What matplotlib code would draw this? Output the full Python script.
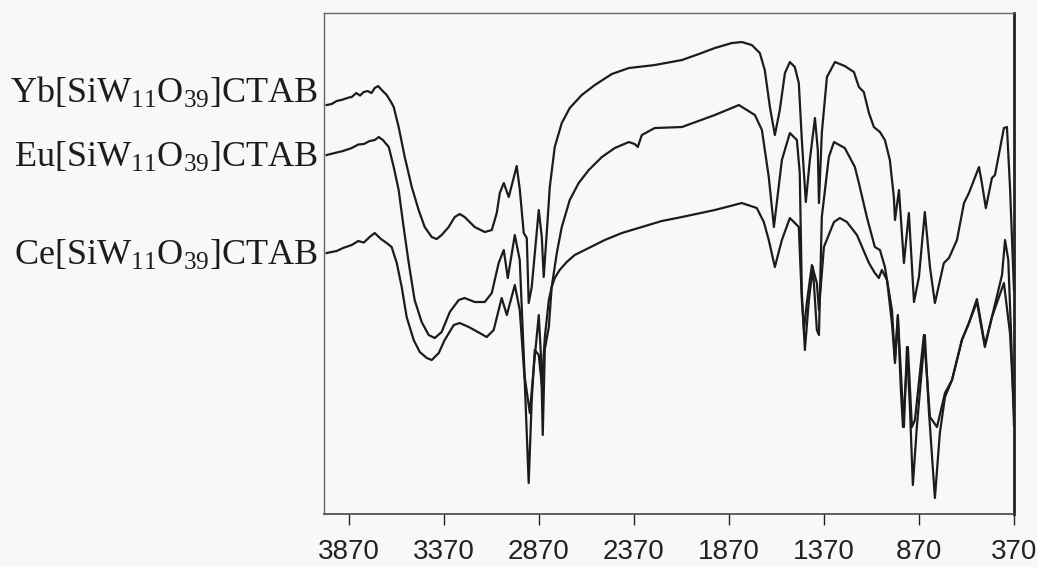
import matplotlib
matplotlib.use('AGG')
import matplotlib.pyplot as plt
import matplotlib.transforms as mtransforms

# wavenumber (cm-1) / transmittance (arbitrary %)
yb_wn = [3986, 3960, 3933, 3900, 3870, 3854, 3830, 3810, 3791, 3770, 3750, 3733, 3715, 3696, 3670, 3650,
         3633, 3607, 3575, 3538, 3502, 3470, 3433, 3407, 3381, 3344, 3312, 3286, 3260, 3207,
         3154, 3117, 3091, 3075, 3054, 3028, 2986, 2970, 2949, 2933, 2923, 2907, 2870, 2854,
         2844, 2828, 2812, 2786, 2749, 2707, 2644, 2575, 2486, 2396, 2260, 2117, 2028, 1944,
         1854, 1802, 1749, 1707, 1681, 1654, 1628, 1602, 1575, 1549, 1523, 1502, 1486, 1475,
         1465, 1444, 1417, 1402, 1396, 1381, 1354, 1312, 1260, 1212, 1186, 1160, 1133, 1107,
         1075, 1049, 1023, 1002, 996, 975, 949, 923, 896, 870, 839, 812, 786, 739, 712, 670,
         633, 607, 554, 539, 518, 486, 470, 423, 407, 391, 370]
yb_t = [81.8, 82.0, 82.6, 82.9, 83.3, 83.4, 84.2, 83.7, 84.4, 84.6, 84.2, 85.2, 85.6, 84.8, 83.8, 82.6,
        81.4, 77.4, 71.4, 65.4, 60.8, 57.4, 55.4, 55.0, 55.8, 57.4, 59.4, 60.0, 59.4, 57.4,
        56.4, 56.8, 60.2, 64.2, 66.2, 63.4, 69.6, 65.0, 56.2, 55.2, 42.2, 45.4, 60.8, 55.4,
        47.4, 56.2, 65.4, 73.4, 78.2, 81.2, 83.8, 85.8, 88.0, 89.2, 89.8, 90.8, 92.0, 93.2,
        94.2, 94.4, 93.8, 92.2, 88.8, 81.4, 75.8, 80.8, 88.2, 90.4, 89.4, 86.2, 74.8, 68.2,
        62.4, 70.8, 79.2, 72.8, 62.2, 76.2, 87.4, 90.4, 89.6, 88.4, 85.4, 84.4, 80.2, 77.4,
        76.4, 74.8, 70.8, 63.4, 58.8, 64.8, 50.2, 60.2, 42.4, 47.4, 60.4, 49.4, 42.2, 50.2, 51.2, 54.8,
        62.2, 64.2, 69.4, 66.2, 61.2, 67.2, 67.8, 77.2, 77.4, 65.4, 44.8]

eu_wn = [3986, 3933, 3900, 3854, 3820, 3790, 3760, 3733, 3712, 3690, 3659, 3633, 3607, 3581, 3554,
         3523, 3486, 3449, 3417, 3381, 3338, 3291, 3260, 3207, 3154, 3117, 3081, 3054, 3033,
         2996, 2970, 2944, 2917, 2896, 2870, 2858, 2849, 2838, 2817, 2802, 2775, 2749, 2707,
         2660, 2607, 2538, 2470, 2396, 2365, 2349, 2328, 2260, 2117, 1944, 1817, 1733, 1696,
         1660, 1633, 1591, 1549, 1512, 1497, 1486, 1470, 1449, 1428, 1407, 1396, 1381, 1344,
         1317, 1260, 1207, 1186, 1144, 1102, 1075, 1049, 1012, 996, 981, 960, 949, 933, 917,
         902, 881, 839, 818, 786, 760, 733, 696, 644, 607, 565, 523, 486, 433, 417, 400, 386, 370]
eu_t = [71.8, 72.3, 72.6, 73.2, 73.9, 74.0, 74.6, 74.8, 75.4, 74.8, 73.4, 69.4, 64.8, 57.4, 50.2,
        42.8, 38.4, 35.8, 35.2, 36.4, 40.4, 42.8, 43.2, 42.4, 42.4, 44.2, 50.2, 52.8, 47.2,
        55.8, 50.8, 27.4, 20.2, 29.4, 39.8, 31.4, 15.8, 33.0, 37.4, 45.4, 52.2, 57.4, 62.8,
        66.2, 68.8, 71.4, 73.2, 74.4, 74.0, 73.4, 75.8, 77.2, 77.4, 79.8, 81.8, 79.8, 76.8,
        67.4, 57.4, 70.8, 76.2, 74.8, 68.2, 44.2, 32.8, 42.8, 49.4, 36.8, 35.8, 59.4, 71.4,
        74.4, 73.2, 69.4, 66.2, 59.4, 53.4, 52.8, 49.4, 40.8, 30.8, 39.8, 24.8, 17.4, 33.4, 20.8,
        5.8, 17.4, 35.8, 20.8, 3.2, 16.2, 23.4, 26.8, 34.8, 38.2, 43.0, 33.8, 39.4, 47.8, 54.8, 50.8, 36.8, 17.8]

ce_wn = [3986, 3933, 3900, 3854, 3820, 3790, 3760, 3733, 3700, 3670, 3644, 3617, 3591, 3565, 3528,
         3496, 3459, 3433, 3396, 3365, 3317, 3286, 3238, 3181, 3144, 3107, 3081, 3065, 3038,
         2996, 2970, 2944, 2923, 2907, 2891, 2870, 2854, 2838, 2817, 2802, 2786, 2760, 2723,
         2681, 2607, 2523, 2433, 2328, 2223, 2117, 1944, 1802, 1723, 1686, 1660, 1628, 1591,
         1549, 1502, 1486, 1475, 1460, 1433, 1407, 1396, 1370, 1317, 1286, 1249, 1196, 1133,
         1102, 1081, 1065, 1038, 1012, 996, 981, 965, 954, 928, 907, 891, 844, 812, 775, 733,
         696, 644, 607, 565, 523, 486, 423, 391, 370]
ce_t = [52.2, 52.6, 53.2, 53.8, 54.6, 54.3, 55.4, 56.2, 55.0, 54.2, 53.4, 50.2, 45.4, 39.4, 34.8,
        32.4, 31.2, 30.8, 32.2, 34.8, 37.8, 38.2, 37.4, 36.2, 35.4, 36.8, 40.8, 43.2, 39.8,
        45.8, 40.8, 26.8, 6.2, 22.8, 32.8, 31.8, 25.8, 35.4, 42.8, 45.4, 47.2, 48.8, 50.4,
        51.8, 53.2, 54.8, 56.2, 57.4, 58.6, 59.4, 60.8, 62.2, 61.2, 58.4, 54.8, 49.4, 54.8,
        59.2, 57.4, 42.8, 36.8, 42.2, 49.8, 46.2, 40.8, 53.4, 58.4, 59.2, 58.4, 55.8, 50.2,
        48.2, 47.2, 48.8, 46.8, 38.2, 30.2, 39.4, 24.8, 17.4, 33.4, 17.4, 18.8, 35.8, 19.4, 17.4, 24.2,
        26.8, 34.8, 38.2, 42.4, 33.4, 39.4, 46.2, 36.2, 20.8]

tick_vals = [3870, 3370, 2870, 2370, 1870, 1370, 870, 370]
names = ['Yb', 'Eu', 'Ce']
label_y = [82.2, 69.4, 49.8]

plt.rcParams['mathtext.fontset'] = 'custom'
plt.rcParams['mathtext.rm'] = 'Liberation Serif'

fig = plt.figure(figsize=(10.37, 5.67), dpi=100, facecolor='#f8f8f8')
ax = fig.add_axes([0.3124, 0.0935, 0.6654, 0.8835])
ax.set_facecolor('#f8f8f8')

for wn, t in [(yb_wn, yb_t), (eu_wn, eu_t), (ce_wn, ce_t)]:
    ax.plot(wn, t, color='#1c1c1c', lw=1.6, solid_joinstyle='round')

ax.set_xlim(4000, 370)
ax.set_ylim(0, 100.2)
ax.set_xticks(tick_vals)
ax.set_xticklabels([str(v) for v in tick_vals], fontsize=20, family='Liberation Sans')
ax.tick_params(axis='x', direction='out', length=8, width=1, pad=10, colors='#222222')
ax.set_yticks([])

for s in ['top', 'left']:
    ax.spines[s].set_color('#666666')
    ax.spines[s].set_linewidth(1)
ax.spines['bottom'].set_color('#444444')
ax.spines['bottom'].set_linewidth(1.2)
ax.spines['right'].set_color('#222222')
ax.spines['right'].set_linewidth(2)

trans = mtransforms.blended_transform_factory(ax.transAxes, ax.transData)
for n, y in zip(names, label_y):
    ax.text(-0.009, y, n + r'[SiW$\mathregular{_{11}}$O$\mathregular{_{39}}$]CTAB',
            transform=trans, ha='right', va='baseline', fontsize=26,
            family='Liberation Serif', color='#1c1c1c')

plt.savefig('out.png', dpi=100, facecolor=fig.get_facecolor())
plt.close('all')
